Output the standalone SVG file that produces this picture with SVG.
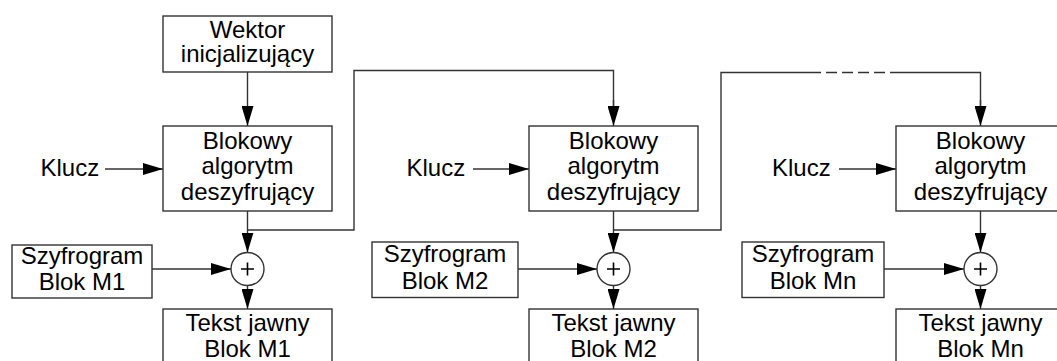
<svg xmlns="http://www.w3.org/2000/svg" width="1057" height="361" viewBox="0 0 1057 361">
<defs>
<marker id="arr" markerUnits="userSpaceOnUse" markerWidth="20" markerHeight="12" refX="20" refY="6" orient="auto">
<path d="M0,0 L20,6 L0,12 z" fill="#000"/>
</marker>
<style>
.box{fill:#fff;stroke:#333;stroke-width:1.4}
.ln{fill:none;stroke:#333;stroke-width:1.4}
.ar{fill:none;stroke:#333;stroke-width:1.4;marker-end:url(#arr)}
.dash{fill:none;stroke:#333;stroke-width:1.4;stroke-dasharray:11 5}
text{font-family:"Liberation Sans",Arial,sans-serif;font-size:24px;fill:#000;text-anchor:middle}
.k{text-anchor:start}
.plus{stroke:#000;stroke-width:1.6}
</style>
</defs>
<g id="connectors">
<line class="ar" x1="247.5" y1="72" x2="247.5" y2="126"/>
<line class="ar" x1="105" y1="169" x2="163" y2="169"/>
<line class="ar" x1="473" y1="169" x2="529" y2="169"/>
<line class="ar" x1="839" y1="169" x2="896" y2="169"/>
<line class="ar" x1="247.5" y1="211" x2="247.5" y2="252.5"/>
<line class="ar" x1="613.5" y1="211" x2="613.5" y2="252.5"/>
<line class="ar" x1="980.5" y1="211" x2="980.5" y2="252.5"/>
<line class="ar" x1="152" y1="269" x2="231" y2="269"/>
<line class="ar" x1="518" y1="269" x2="597" y2="269"/>
<line class="ar" x1="884" y1="269" x2="964" y2="269"/>
<line class="ar" x1="247.5" y1="285.5" x2="247.5" y2="309"/>
<line class="ar" x1="613.5" y1="285.5" x2="613.5" y2="309"/>
<line class="ar" x1="980.5" y1="285.5" x2="980.5" y2="309"/>
<polyline class="ln" points="247.5,230 354,230 354,70.5 613.5,70.5 613.5,108"/>
<line class="ar" x1="613.5" y1="100" x2="613.5" y2="126"/>
<polyline class="ln" points="613.5,230 721,230 721,72.5 810,72.5"/>
<line class="dash" x1="810" y1="72.5" x2="896" y2="72.5"/>
<polyline class="ln" points="896,72.5 980.5,72.5 980.5,108"/>
<line class="ar" x1="980.5" y1="100" x2="980.5" y2="126"/>
</g>
<g id="wektor">
<rect class="box" x="163" y="16" width="169" height="56"/>
<text x="247.5" y="37.5">Wektor</text>
<text x="247.5" y="62">inicjalizujący</text>
</g>
<g id="klucz1"><text class="k" x="40.5" y="176">Klucz</text></g>
<g id="klucz2"><text class="k" x="406.5" y="176">Klucz</text></g>
<g id="klucz3"><text class="k" x="772" y="176">Klucz</text></g>
<g id="blok1">
<rect class="box" x="163" y="126" width="169" height="85"/>
<text x="247.5" y="148.5">Blokowy</text>
<text x="247.5" y="174">algorytm</text>
<text x="247.5" y="200">deszyfrujący</text>
</g>
<g id="blok2">
<rect class="box" x="529" y="126" width="169" height="85"/>
<text x="613.5" y="148.5">Blokowy</text>
<text x="613.5" y="174">algorytm</text>
<text x="613.5" y="200">deszyfrujący</text>
</g>
<g id="blok3">
<rect class="box" x="896" y="126" width="169" height="85"/>
<text x="980.5" y="148.5">Blokowy</text>
<text x="980.5" y="174">algorytm</text>
<text x="980.5" y="200">deszyfrujący</text>
</g>
<g id="szyf1">
<rect class="box" x="12" y="245" width="140" height="53"/>
<text x="82" y="264">Szyfrogram</text>
<text x="82" y="290">Blok M1</text>
</g>
<g id="szyf2">
<rect class="box" x="372" y="242" width="146" height="55.5"/>
<text x="445" y="262">Szyfrogram</text>
<text x="445" y="288.5">Blok M2</text>
</g>
<g id="szyf3">
<rect class="box" x="742" y="242" width="142" height="55.5"/>
<text x="813" y="262">Szyfrogram</text>
<text x="813" y="288.5">Blok Mn</text>
</g>
<g id="xor1">
<circle class="box" cx="247.5" cy="269" r="16.5"/>
<path class="plus" d="M241,269 H254 M247.5,262.5 V275.5"/>
</g>
<g id="xor2">
<circle class="box" cx="613.5" cy="269" r="16.5"/>
<path class="plus" d="M607,269 H620 M613.5,262.5 V275.5"/>
</g>
<g id="xor3">
<circle class="box" cx="980.5" cy="269" r="16.5"/>
<path class="plus" d="M974,269 H987 M980.5,262.5 V275.5"/>
</g>
<g id="tekst1">
<rect class="box" x="163" y="309" width="169" height="60"/>
<text x="247.5" y="330.5">Tekst jawny</text>
<text x="247.5" y="356.5">Blok M1</text>
</g>
<g id="tekst2">
<rect class="box" x="529" y="309" width="169" height="60"/>
<text x="613.5" y="330.5">Tekst jawny</text>
<text x="613.5" y="356.5">Blok M2</text>
</g>
<g id="tekst3">
<rect class="box" x="896" y="309" width="169" height="60"/>
<text x="980.5" y="330.5">Tekst jawny</text>
<text x="980.5" y="356.5">Blok Mn</text>
</g>
</svg>
